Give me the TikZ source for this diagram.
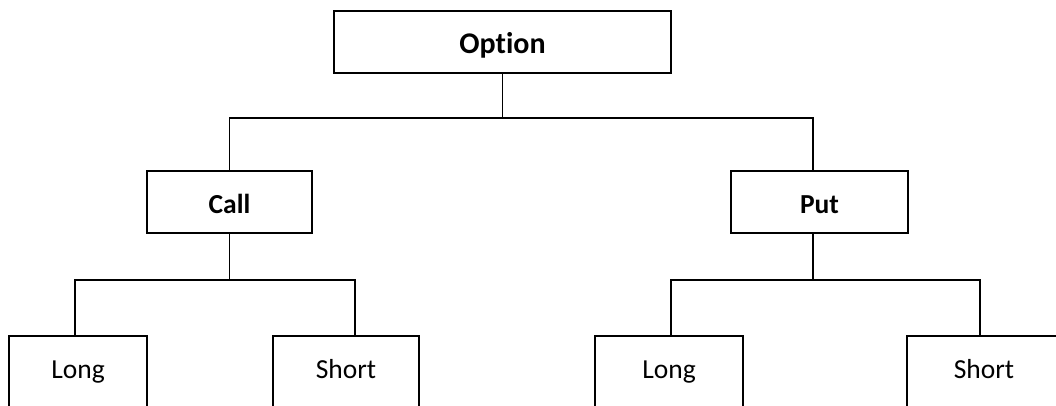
\documentclass[tikz,border=0pt]{standalone}
\usepackage{fontspec}
\setmainfont{Carlito}[Ligatures={NoCommon,NoContextual}]
\usetikzlibrary{positioning}

\begin{document}
\begin{tikzpicture}[x=1pt,y=-1pt,
    b/.style={draw=black,line width=1.8pt,minimum height=62pt,inner sep=0pt,
              text height=24pt,text depth=2pt,
              font=\fontsize{27.5}{32}\selectfont\bfseries},
    leaf/.style={draw=black,line width=1.5pt,minimum height=72pt,inner sep=0pt,
              text height=20pt,text depth=8pt,
              font=\fontsize{27.5}{32}\selectfont},
    conn/.style={draw=black,line width=1.6pt}]
\clip (0,0) rectangle (1056,405);
\node[b,minimum width=337pt,font=\fontsize{30}{36}\selectfont\bfseries] (option) at (502.5,42) {Option};
\node[b,minimum width=165pt] (call) at (229.5,202) {Call};
\node[b,minimum width=177pt] (put) at (819.5,202) {Put};
\node[leaf,minimum width=138pt] (longc) at (78,372) {Long};
\node[leaf,minimum width=146pt] (shortc) at (346,372) {Short};
\node[leaf,minimum width=148pt] (longp) at (669,372) {Long};
\node[leaf,minimum width=154pt] (shortp) at (984,372) {Short};
% option -> call / put
\draw[conn] (option.south) -- ++(0,44) -| (call.north);
\draw[conn] (option.south) -- ++(0,44) -| ([xshift=-6.5pt]put.north);
% call -> long / short
\draw[conn] (call.south) -- ++(0,46) -| ([xshift=-3pt]longc.north);
\draw[conn] (call.south) -- ++(0,46) -| ([xshift=9pt]shortc.north);
% put -> long / short
\draw[conn] ([xshift=-6.5pt]put.south) -- ++(0,46) -| ([xshift=2pt]longp.north);
\draw[conn] ([xshift=-6.5pt]put.south) -- ++(0,46) -| ([xshift=-4pt]shortp.north);
\end{tikzpicture}
\end{document}
